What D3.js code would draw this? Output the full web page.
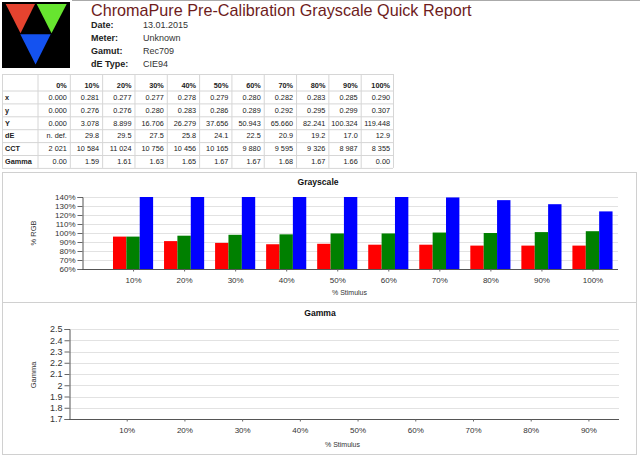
<!DOCTYPE html>
<html><head><meta charset="utf-8">
<script src="https://cdn.jsdelivr.net/npm/d3@7"></script>
<style>body{margin:0;background:#fff;} svg{display:block;font-family:"Liberation Sans",Arial,sans-serif;}</style>
</head><body>
<svg id="c" width="640" height="457"></svg>
<script>
// ---- data ----
const reportTitle = "ChromaPure Pre-Calibration Grayscale Quick Report";
const infoLabels = ["Date:", "Meter:", "Gamut:", "dE Type:"];
const infoValues = ["13.01.2015", "Unknown", "Rec709", "CIE94"];

const tableHeader = ["", "0%", "10%", "20%", "30%", "40%", "50%", "60%", "70%", "80%", "90%", "100%"];
const rowNames = ["x", "y", "Y", "dE", "CCT", "Gamma"];
const rowX = ["0.000","0.281","0.277","0.277","0.278","0.279","0.280","0.282","0.283","0.285","0.290"];
const rowY = ["0.000","0.276","0.276","0.280","0.283","0.286","0.289","0.292","0.295","0.299","0.307"];
const rowLum = ["0.000","3.078","8.899","16.706","26.279","37.656","50.943","65.660","82.241","100.324","119.448"];
const rowDE = ["n. def.","29.8","29.5","27.5","25.8","24.1","22.5","20.9","19.2","17.0","12.9"];
const rowCCT = ["2 021","10 584","11 024","10 756","10 456","10 165","9 880","9 595","9 326","8 987","8 355"];
const rowGamma = ["0.00","1.59","1.61","1.63","1.65","1.67","1.67","1.68","1.67","1.66","0.00"];

const stimulus = [10, 20, 30, 40, 50, 60, 70, 80, 90, 100];
const redPct   = [96, 91, 89, 87.5, 88, 87, 87, 86, 86, 86];
const greenPct = [96, 97, 98, 98.5, 99.5, 99.5, 100.5, 100, 101, 102];
const bluePct  = [140, 140, 140, 140, 140, 140, 139.5, 136.5, 132, 124];
const rgbTicks = [60, 70, 80, 90, 100, 110, 120, 130, 140];

const gammaStimulus = [10, 20, 30, 40, 50, 60, 70, 80, 90];
const gammaValues = [1.59, 1.61, 1.63, 1.65, 1.67, 1.67, 1.68, 1.67, 1.66];
const gammaTicks = [1.7, 1.8, 1.9, 2.0, 2.1, 2.2, 2.3, 2.4, 2.5];

// ---- drawing ----
const svg = d3.select("#c");
const FONT = '"Liberation Sans",Arial,sans-serif';

// top border line
svg.append("line").attr("x1",72).attr("x2",640).attr("y1",0.5).attr("y2",0.5).attr("stroke","#aaa");

// logo
const logo = svg.append("g");
logo.append("rect").attr("x",2).attr("y",2).attr("width",68).attr("height",66).attr("fill","#000");
const tri = [
  {pts:[[5.7,4],[35,4],[20.5,33.3]], c:"#e5432f"},
  {pts:[[36.7,4],[66.7,4],[51.5,33.3]], c:"#67e52f"},
  {pts:[[20.3,34.3],[50.7,34.3],[35.6,64.5]], c:"#1452f0"}
];
logo.selectAll("path").data(tri).join("path")
  .attr("d", d => "M" + d.pts.map(p => p.join(",")).join("L") + "Z")
  .attr("fill", d => d.c);

svg.append("text").attr("x",91).attr("y",15.5).attr("font-size",16.2).attr("fill","#6e1c1c").text(reportTitle);

const infoG = svg.append("g").attr("font-size",9);
const infoBase = [27.5, 40.8, 54, 67];
infoG.selectAll("text.l").data(infoLabels).join("text").attr("class","l")
  .attr("x",91).attr("y",(d,i)=>infoBase[i]).attr("font-weight","bold").attr("fill","#222").text(d=>d);
infoG.selectAll("text.v").data(infoValues).join("text").attr("class","v")
  .attr("x",143).attr("y",(d,i)=>infoBase[i]).attr("fill","#333").text(d=>d);

// table
const tableRows = [rowX, rowY, rowLum, rowDE, rowCCT, rowGamma];
const colX = [2, 37.5];
for (let i = 1; i <= 11; i++) colX.push(37.5 + i * 32.32);
const rowTop = [74, 90.5];
for (let i = 1; i <= 6; i++) rowTop.push(90.5 + i * 12.9);
const tg = svg.append("g").attr("font-size",7.3).attr("fill","#222");
// grid lines
tg.selectAll("line.v").data(colX).join("line").attr("class","v")
  .attr("x1",d=>d+0.5).attr("x2",d=>d+0.5).attr("y1",rowTop[0]).attr("y2",rowTop[rowTop.length-1])
  .attr("stroke","#d6d6d6");
tg.selectAll("line.h").data(rowTop).join("line").attr("class","h")
  .attr("x1",colX[0]).attr("x2",colX[colX.length-1]).attr("y1",d=>d+0.5).attr("y2",d=>d+0.5)
  .attr("stroke","#d6d6d6");
// header
tg.selectAll("text.h").data(tableHeader).join("text").attr("class","h")
  .attr("x",(d,i)=>colX[i+1]-3).attr("y",87.5).attr("text-anchor","end").attr("font-weight","bold").text(d=>d);
rowNames.forEach((name, r) => {
  const y = rowTop[r+1] + 9.2;
  tg.append("text").attr("x",colX[0]+3).attr("y",y).attr("font-weight","bold").text(name);
  tg.selectAll(null).data(tableRows[r]).join("text")
    .attr("x",(d,i)=>colX[i+2]-3).attr("y",y).attr("text-anchor","end").text(d=>d);
});

// panels
svg.append("rect").attr("x",2.5).attr("y",172.5).attr("width",634).attr("height",130).attr("fill","none").attr("stroke","#d0d0d0");
svg.append("rect").attr("x",2.5).attr("y",302.5).attr("width",634).attr("height",152).attr("fill","none").attr("stroke","#d0d0d0");

// ---- Grayscale chart ----
const gx = d3.scaleLinear().domain([0,105]).range([82,618]);
const gy = d3.scaleLinear().domain([60,140]).range([269,197]);
const gs = svg.append("g");
gs.append("text").attr("x",318).attr("y",184.5).attr("text-anchor","middle").attr("font-size",8.6).attr("font-weight","bold").attr("fill","#111").text("Grayscale");
gs.selectAll("line.grid").data(rgbTicks.slice(1)).join("line").attr("class","grid")
  .attr("x1",gx(0)).attr("x2",gx(105)).attr("y1",d=>Math.round(gy(d))+0.5).attr("y2",d=>Math.round(gy(d))+0.5).attr("stroke","#e2e2e2");
gs.append("defs").append("clipPath").attr("id","clipG").append("rect")
  .attr("x",gx(0)).attr("y",gy(140)).attr("width",gx(105)-gx(0)).attr("height",gy(60)-gy(140));
const bw = (gx(10)-gx(0))*0.262;
const series = [{v:redPct,c:"#ff0000",o:-1.5},{v:greenPct,c:"#008000",o:-0.5},{v:bluePct,c:"#0000ff",o:0.5}];
const barsG = gs.append("g").attr("clip-path","url(#clipG)");
series.forEach(s => {
  barsG.selectAll(null).data(stimulus).join("rect")
    .attr("x",(d)=>gx(d)+s.o*bw).attr("width",bw)
    .attr("y",(d,i)=>gy(s.v[i])).attr("height",(d,i)=>gy(60)-gy(s.v[i]))
    .attr("fill",s.c);
});
const gyAxis = gs.append("g").attr("transform",`translate(${gx(0)+0.5},0)`)
  .call(d3.axisLeft(gy).tickValues(rgbTicks).tickFormat(d=>d+"%").tickSize(5).tickPadding(2));
const gxAxis = gs.append("g").attr("transform",`translate(0,${gy(60)+0.5})`)
  .call(d3.axisBottom(gx).tickValues(stimulus).tickFormat(d=>d+"%").tickSize(2).tickPadding(6).tickSizeOuter(0));
[gyAxis,gxAxis].forEach(a=>{
  a.selectAll("text").attr("font-size",8).attr("font-family",FONT).attr("fill","#333");
  a.select(".domain").attr("stroke","#555");
  a.selectAll(".tick line").attr("stroke","#666");
});
gxAxis.select(".domain").attr("d",`M${gx(0)},0H${gx(105)}`);
gs.append("text").attr("x",332).attr("y",294.5).attr("font-size",7).attr("fill","#333").text("% Stimulus");
gs.append("text").attr("transform","translate(36,233) rotate(-90)").attr("text-anchor","middle").attr("font-size",7.5).attr("fill","#333").text("% RGB");

// ---- Gamma chart ----
const mx = d3.scaleLinear().domain([0,95.3]).range([69,619]);
const my = d3.scaleLinear().domain([1.7,2.5]).range([419,329]);
const gm = svg.append("g");
gm.append("text").attr("x",320).attr("y",315.5).attr("text-anchor","middle").attr("font-size",8.6).attr("font-weight","bold").attr("fill","#111").text("Gamma");
gm.selectAll("line.grid").data(gammaTicks.slice(1)).join("line").attr("class","grid")
  .attr("x1",mx(0)).attr("x2",mx(95.3)).attr("y1",d=>Math.round(my(d))+0.5).attr("y2",d=>Math.round(my(d))+0.5).attr("stroke","#e2e2e2");
gm.append("defs").append("clipPath").attr("id","clipM").append("rect")
  .attr("x",mx(0)).attr("y",my(2.5)).attr("width",mx(95.3)-mx(0)).attr("height",my(1.7)-my(2.5));
gm.append("path").datum(gammaStimulus.map((s,i)=>[s,gammaValues[i]]))
  .attr("clip-path","url(#clipM)").attr("fill","none").attr("stroke","#888").attr("stroke-width",2)
  .attr("d",d3.line().x(d=>mx(d[0])).y(d=>my(d[1])));
const myAxis = gm.append("g").attr("transform",`translate(${mx(0)+0.5},0)`)
  .call(d3.axisLeft(my).tickValues(gammaTicks).tickFormat(d3.format("~g")).tickSize(5).tickPadding(2));
const mxAxis = gm.append("g").attr("transform",`translate(0,${my(1.7)+0.5})`)
  .call(d3.axisBottom(mx).tickValues(gammaStimulus).tickFormat(d=>d+"%").tickSize(2).tickPadding(6).tickSizeOuter(0));
[myAxis,mxAxis].forEach(a=>{
  a.selectAll("text").attr("font-size",8).attr("font-family",FONT).attr("fill","#333");
  a.select(".domain").attr("stroke","#555");
  a.selectAll(".tick line").attr("stroke","#666");
});
myAxis.selectAll("text").attr("font-size",9);
mxAxis.select(".domain").attr("d",`M${mx(0)},0H${mx(95.3)}`);
gm.append("text").attr("x",325).attr("y",446.5).attr("font-size",7).attr("fill","#333").text("% Stimulus");
gm.append("text").attr("transform","translate(36,375) rotate(-90)").attr("text-anchor","middle").attr("font-size",7.5).attr("fill","#333").text("Gamma");
</script>
</body></html>
